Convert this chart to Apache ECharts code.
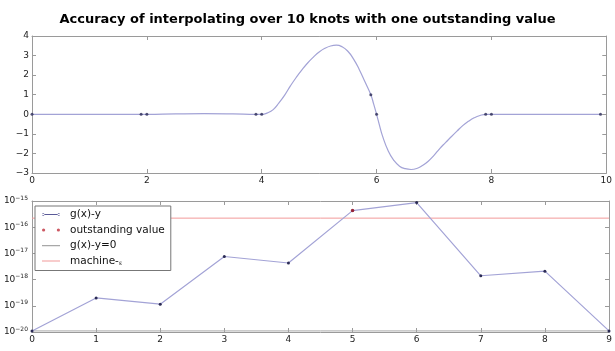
<!DOCTYPE html>
<html>
<head>
<meta charset="utf-8">
<script src="https://cdn.jsdelivr.net/npm/echarts@6/dist/echarts.min.js"></script>
<style>
  html, body { margin: 0; padding: 0; background: #fff; }
  #chart { width: 615px; height: 351px; }
</style>
</head>
<body>
<div id="chart"></div>
<script>
// ---- Data ----
const titleText = 'Accuracy of interpolating over 10 knots with one outstanding value';

// Top panel: interpolating curve
const curveX = [0, 1, 1.9, 2, 2.5, 3, 3.5, 3.9, 4, 4.1, 4.2, 4.3, 4.4, 4.5, 4.6, 4.7, 4.8, 4.9, 5.0, 5.1, 5.2, 5.3, 5.4, 5.5, 5.6, 5.7, 5.8, 5.9, 5.95, 6.0, 6.05, 6.1, 6.2, 6.3, 6.4, 6.5, 6.6, 6.7, 6.8, 6.9, 7.0, 7.1, 7.2, 7.3, 7.4, 7.5, 7.6, 7.7, 7.8, 7.9, 8, 9, 9.9];
const curveY = [0, 0, 0, 0, 0.02, 0.03, 0.02, 0, 0, 0.07, 0.24, 0.58, 0.98, 1.45, 1.88, 2.27, 2.62, 2.92, 3.18, 3.37, 3.49, 3.53, 3.45, 3.22, 2.82, 2.28, 1.65, 1.0, 0.52, 0, -0.55, -1.08, -1.85, -2.35, -2.65, -2.78, -2.82, -2.77, -2.62, -2.4, -2.1, -1.75, -1.45, -1.15, -0.86, -0.58, -0.36, -0.18, -0.06, 0, 0, 0, 0];

// Top panel: knots
const knotX = [0, 1.9, 2, 3.9, 4, 5.9, 6, 7.9, 8, 9.9];
const knotY = [0, 0, 0, 0, 0, 1, 0, 0, 0, 0];

// Bottom panel: |g(x)-y| at knot indices
const errIndex = [0, 1, 2, 3, 4, 5, 6, 7, 8, 9];
const errValue = [1.1e-20, 2.0e-19, 1.15e-19, 7.6e-18, 4.3e-18, 4.3e-16, 8.7e-16, 1.4e-18, 2.1e-18, 1.1e-20];
const outstandingIndex = [5];
const zeroLineValue = 1.1e-20;
const machineEps = 2.22e-16;

// Tick settings
const topXTicks = { min: 0, max: 10, interval: 2 };
const topYTicks = { min: -3, max: 4, interval: 1 };
const botXTicks = { min: 0, max: 9, interval: 1 };
const botYTicks = { min: 1e-20, max: 1e-15 };

// ---- Chart ----
const FONT = 'DejaVu Sans';
const LINE_C = '#a3a3d6';
const DOT_C = '#2b2b55';
const AXIS_C = '#9a9a9a';

const chart = echarts.init(document.getElementById('chart'), null, { renderer: 'canvas' });

const grids = [
  { left: 32, right: 6, top: 36, height: 137 },
  { left: 32, right: 6, top: 201, height: 131 }
];

function minusFmt(v) { return String(v).replace('-', '\u2212'); }

function baseX(gi, t, pos, show) {
  return {
    type: 'value', gridIndex: gi, position: pos,
    min: t.min, max: t.max, interval: t.interval,
    axisLine: { show: true, onZero: false, lineStyle: { color: AXIS_C, width: 1 } },
    axisTick: { show: true, inside: true, length: 4, lineStyle: { color: AXIS_C } },
    axisLabel: { show: show, fontFamily: FONT, fontSize: 9, color: '#222', margin: 3 },
    splitLine: { show: false }
  };
}

const logLabel = {
  fontFamily: FONT, fontSize: 9, color: '#222', margin: 4,
  formatter: v => '{b|10}{s|' + minusFmt(Math.round(Math.log10(v))) + '}',
  rich: {
    b: { fontFamily: FONT, fontSize: 9, color: '#222' },
    s: { fontFamily: FONT, fontSize: 6, color: '#222', verticalAlign: 'top', padding: [0, 0, 6, 0] }
  }
};

const xAxes = [
  baseX(0, topXTicks, 'bottom', true),
  baseX(0, topXTicks, 'top', false),
  baseX(1, botXTicks, 'bottom', true),
  baseX(1, botXTicks, 'top', false)
];

function topY(pos, show) {
  const a = baseX(0, topYTicks, pos, show);
  a.axisLabel.formatter = minusFmt;
  return a;
}
function botY(pos, show) {
  return {
    type: 'log', logBase: 10, gridIndex: 1, position: pos,
    min: botYTicks.min, max: botYTicks.max,
    axisLine: { show: true, onZero: false, lineStyle: { color: AXIS_C, width: 1 } },
    axisTick: { show: true, inside: true, length: 4, lineStyle: { color: AXIS_C } },
    minorTick: { show: false },
    axisLabel: Object.assign({ show: show }, logLabel),
    splitLine: { show: false }
  };
}
const yAxes = [topY('left', true), topY('right', false), botY('left', true), botY('right', false)];

const curveData = curveX.map((x, i) => [x, curveY[i]]);
const knotData = knotX.map((x, i) => [x, knotY[i]]);
const errData = errIndex.map((x, i) => [x, errValue[i]]);
const outData = outstandingIndex.map(i => [errIndex[i], errValue[i]]);
const zeroData = [[botXTicks.min, zeroLineValue], [botXTicks.max, zeroLineValue]];
const epsData = [[botXTicks.min, machineEps], [botXTicks.max, machineEps]];

const option = {
  animation: false,
  backgroundColor: '#fff',
  title: {
    text: titleText, left: 'center', top: 8,
    textStyle: { fontFamily: FONT, fontSize: 13, fontWeight: 'bold', color: '#000' }
  },
  grid: grids,
  xAxis: xAxes,
  yAxis: yAxes,
  legend: {
    orient: 'vertical', left: 35, top: 206,
    itemWidth: 18, itemHeight: 4, itemGap: 4.5,
    symbolKeepAspect: true,
    backgroundColor: '#fff', borderColor: '#777', borderWidth: 1, borderRadius: 0,
    padding: [3, 6, 4, 7],
    textStyle: {
      fontFamily: FONT, fontSize: 10.5, color: '#111', padding: [0, 0, 0, 5],
      rich: { e: { fontFamily: FONT, fontSize: 6, color: '#111', verticalAlign: 'bottom' } }
    },
    formatter: n => n === 'machine-ε' ? 'machine-{e|ε}' : n,
    data: [
      { name: 'g(x)-y', icon: 'path://M0,2a1.2,1.2 0 1,0 2.4,0a1.2,1.2 0 1,0 -2.4,0z M15.6,2a1.2,1.2 0 1,0 2.4,0a1.2,1.2 0 1,0 -2.4,0z M0,1.6h18v0.8h-18z M0,0h0.01v4h-0.01z', itemStyle: { color: '#5a5a98' } },
      { name: 'outstanding value', icon: 'path://M0,2a1.6,1.6 0 1,0 3.2,0a1.6,1.6 0 1,0 -3.2,0z M14.8,2a1.6,1.6 0 1,0 3.2,0a1.6,1.6 0 1,0 -3.2,0z M0,0h0.01v4h-0.01z', itemStyle: { color: '#c0303c' } },
      { name: 'g(x)-y=0', icon: 'path://M0,1.5h18v1.2h-18z M0,0h0.01v4h-0.01z', itemStyle: { color: '#a8a8a8' } },
      { name: 'machine-ε', icon: 'path://M0,1.5h18v1h-18z M0,0h0.01v4h-0.01z', itemStyle: { color: '#f29a9a' } }
    ]
  },
  series: [
    {
      name: 'curve', type: 'line', xAxisIndex: 0, yAxisIndex: 0,
      data: curveData, smooth: 0.5, showSymbol: false,
      lineStyle: { color: LINE_C, width: 1.2 }, itemStyle: { color: LINE_C }, z: 2
    },
    {
      name: 'knots', type: 'scatter', xAxisIndex: 0, yAxisIndex: 0,
      data: knotData, symbol: 'circle', symbolSize: 3,
      itemStyle: { color: DOT_C }, z: 3
    },
    {
      name: 'machine-ε', type: 'line', xAxisIndex: 2, yAxisIndex: 2,
      data: epsData, showSymbol: false,
      lineStyle: { color: '#f29a9a', width: 1 }, itemStyle: { color: '#f29a9a' }, z: 2
    },
    {
      name: 'g(x)-y=0', type: 'line', xAxisIndex: 2, yAxisIndex: 2,
      data: zeroData, showSymbol: false,
      lineStyle: { color: '#a8a8a8', width: 1 }, itemStyle: { color: '#a8a8a8' }, z: 2
    },
    {
      name: 'g(x)-y', type: 'line', xAxisIndex: 2, yAxisIndex: 2,
      data: errData, symbol: 'circle', symbolSize: 3, showSymbol: true,
      lineStyle: { color: LINE_C, width: 1.2 }, itemStyle: { color: DOT_C }, z: 3
    },
    {
      name: 'outstanding value', type: 'scatter', xAxisIndex: 2, yAxisIndex: 2,
      data: outData, symbol: 'circle', symbolSize: 3.5,
      itemStyle: { color: '#b02030' }, z: 4
    }
  ]
};

chart.setOption(option);
</script>
</body>
</html>
